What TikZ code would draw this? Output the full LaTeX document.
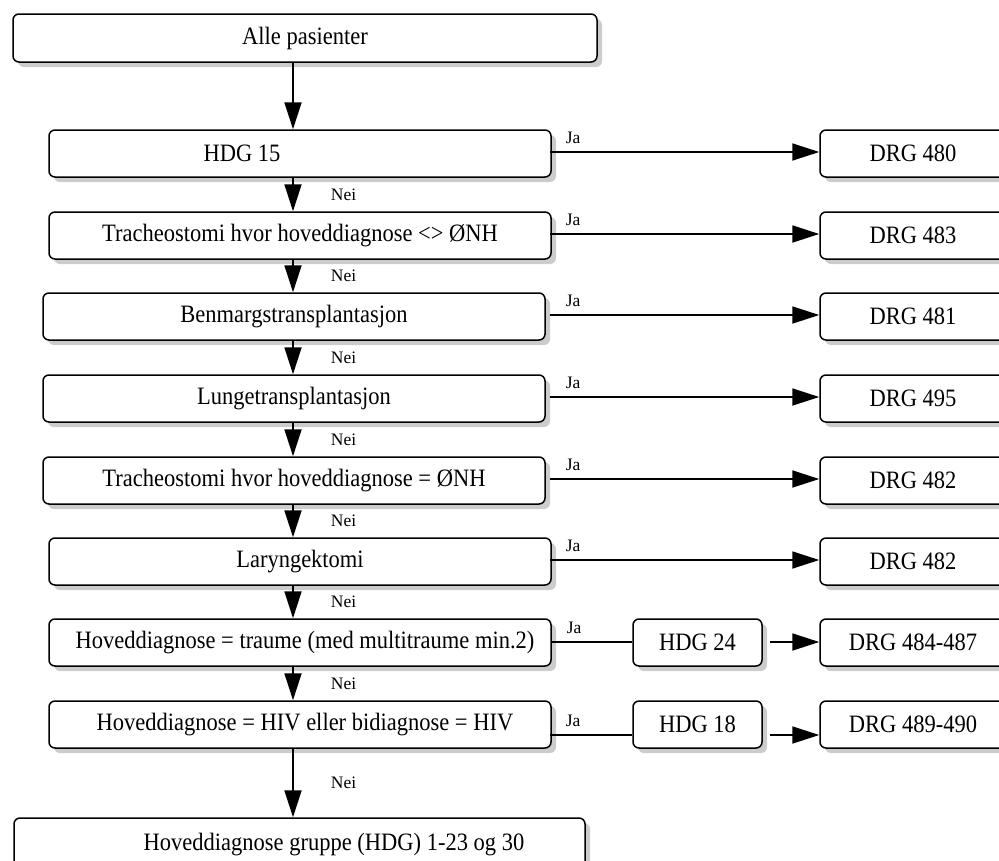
\documentclass[tikz,border=0pt]{standalone}
\usepackage{fontspec}
\setmainfont{Liberation Serif}
\newfontfamily\boxfont[FakeStretch=0.9]{Liberation Serif}
\usetikzlibrary{arrows.meta,shadows,calc}
\begin{document}
\begin{tikzpicture}[x=1pt,y=-1pt,
  box/.style={draw, line width=1.5pt, rounded corners=6pt, fill=white, inner sep=0pt,
    minimum height=47pt, font=\boxfont\fontsize{25}{28}\selectfont,
    drop shadow={shadow xshift=5pt, shadow yshift=-5pt, fill=black!20, opacity=1}},
  conn/.style={line width=1.8pt},
  arr/.style={conn, -{Triangle[length=27pt,width=17pt]}},
  lbl/.style={font=\fontsize{17.5}{19}\selectfont, inner sep=0pt},
  nei/.style={lbl, anchor=west, xshift=37pt},
  ja/.style={lbl, pos=0, anchor=base west, xshift=15pt, yshift=9pt},
]
\useasboundingbox (0,0) rectangle (999,860);

% left column
\node[box, minimum width=584pt, minimum height=48pt] (alle) at (305,38) {Alle pasienter};
\node[box, minimum width=502pt] (q1) at (300,153.5) {HDG 15\kern116pt};
\node[box, minimum width=502pt] (q2) at (300,235.5) {Tracheostomi hvor hoveddiagnose <> ØNH};
\node[box, minimum width=502pt] (q3) at (294,316.5) {Benmargstransplantasjon};
\node[box, minimum width=502pt] (q4) at (294,398.5) {Lungetransplantasjon};
\node[box, minimum width=502pt] (q5) at (294,480.5) {Tracheostomi hvor hoveddiagnose = ØNH};
\node[box, minimum width=502pt] (q6) at (300,561.5) {Laryngektomi};
\node[box, minimum width=502pt] (q7) at (300,642.5) {\kern10pt Hoveddiagnose = traume (med multitraume min.2)};
\node[box, minimum width=502pt] (q8) at (300,724.5) {\kern10pt Hoveddiagnose = HIV eller bidiagnose = HIV};
\node[box, minimum width=571pt, minimum height=54pt] (end) at (299.5,845) {\kern69pt Hoveddiagnose gruppe (HDG) 1-23 og 30};

% right column
\node[box, minimum width=186pt] (d1) at (913,153.5) {DRG 480};
\node[box, minimum width=186pt] (d2) at (913,235.5) {DRG 483};
\node[box, minimum width=186pt] (d3) at (913,316.5) {DRG 481};
\node[box, minimum width=186pt] (d4) at (913,398.5) {DRG 495};
\node[box, minimum width=186pt] (d5) at (913,480.5) {DRG 482};
\node[box, minimum width=186pt] (d6) at (913,561.5) {DRG 482};
\node[box, minimum width=186pt] (d7) at (913,642.5) {DRG 484-487};
\node[box, minimum width=186pt] (d8) at (913,724.5) {DRG 489-490};
\node[box, minimum width=129pt] (h7) at (697.5,642.5) {HDG 24};
\node[box, minimum width=129pt] (h8) at (697.5,724.5) {HDG 18};

% vertical spine
\coordinate (spine) at (293,0);
\draw[arr] (alle.south -| spine) -- (q1.north -| spine);
\draw[arr] (q1.south -| spine) -- node[nei]{Nei} (q2.north -| spine);
\draw[arr] (q2.south -| spine) -- node[nei]{Nei} (q3.north -| spine);
\draw[arr] (q3.south -| spine) -- node[nei]{Nei} (q4.north -| spine);
\draw[arr] (q4.south -| spine) -- node[nei]{Nei} (q5.north -| spine);
\draw[arr] (q5.south -| spine) -- node[nei]{Nei} (q6.north -| spine);
\draw[arr] (q6.south -| spine) -- node[nei]{Nei} (q7.north -| spine);
\draw[arr] (q7.south -| spine) -- node[nei]{Nei} (q8.north -| spine);
\draw[arr] (q8.south -| spine) -- node[nei]{Nei} (end.north -| spine);

% Ja branches
\coordinate (j1) at (550,152);
\coordinate (j2) at (550,234);
\coordinate (j3) at (550,315);
\coordinate (j4) at (550,397);
\coordinate (j5) at (550,479);
\coordinate (j6) at (550,560);
\coordinate (j7) at (551,642);
\coordinate (j8) at (550,735);
\draw[arr] (j1) -- node[ja]{Ja} (d1.west |- j1);
\draw[arr] (j2) -- node[ja]{Ja} (d2.west |- j2);
\draw[arr] (j3) -- node[ja]{Ja} (d3.west |- j3);
\draw[arr] (j4) -- node[ja]{Ja} (d4.west |- j4);
\draw[arr] (j5) -- node[ja]{Ja} (d5.west |- j5);
\draw[arr] (j6) -- node[ja]{Ja} (d6.west |- j6);
\draw[conn] (j7) -- node[ja]{Ja} (h7.west |- j7);
\draw[conn] (j8) -- node[ja]{Ja} (h8.west |- j8);
\coordinate (k7) at ($(h7.east |- j7)+(7,0)$);
\coordinate (k8) at ($(h8.east |- j8)+(7,0)$);
\draw[arr] (k7) -- (d7.west |- k7);
\draw[arr] (k8) -- (d8.west |- k8);
\end{tikzpicture}
\end{document}
